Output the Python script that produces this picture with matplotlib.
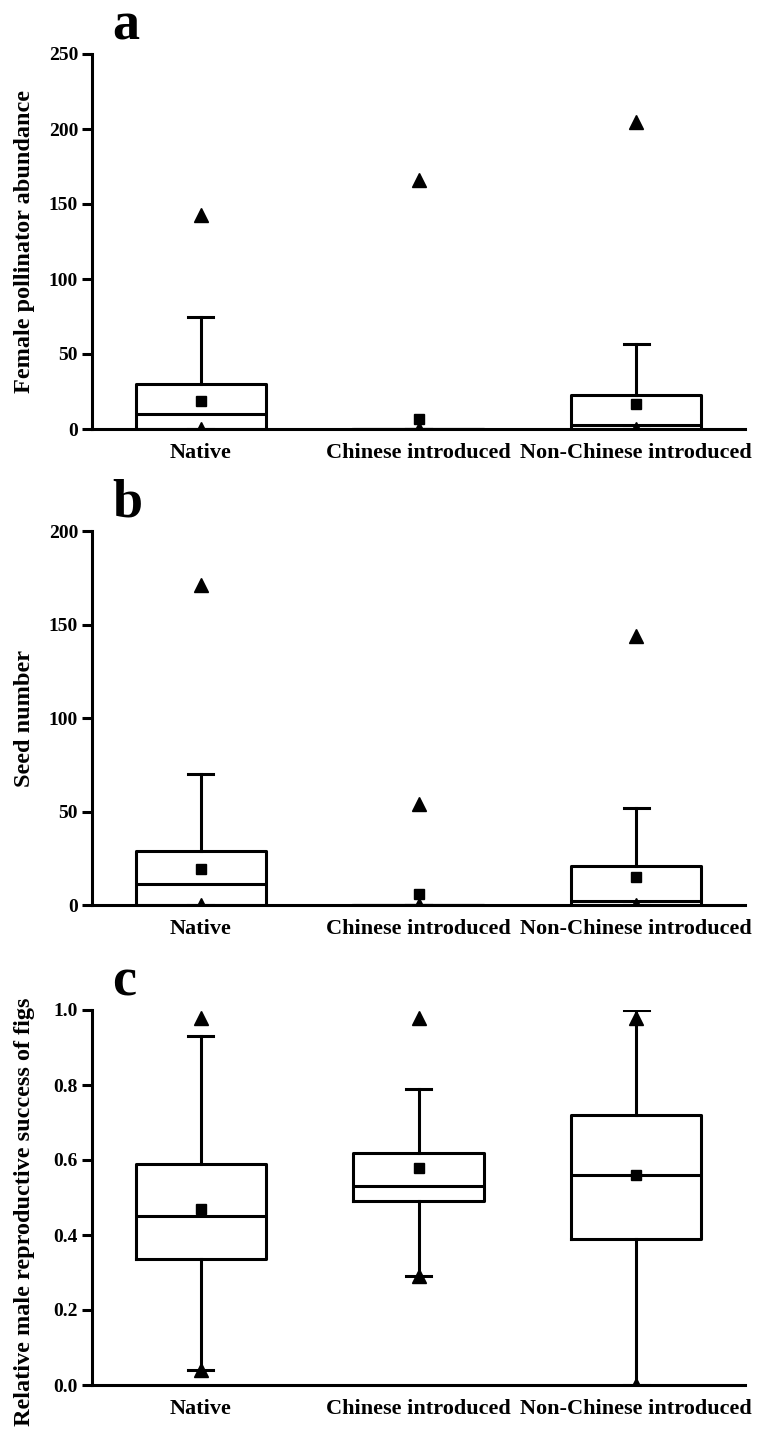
import matplotlib
matplotlib.use("Agg")
import matplotlib.pyplot as plt
from matplotlib.ticker import MultipleLocator

plt.rcParams['font.family'] = ['Liberation Serif', 'DejaVu Serif']
plt.rcParams['font.weight'] = 'bold'

groups = ["Native", "Chinese introduced", "Non-Chinese introduced"]

# (a) Female pollinator abundance
a_whislo = [0, 0, 0]
a_q1 = [0, 0, 0]
a_med = [10, 0, 3]
a_q3 = [30, 0, 23]
a_whishi = [75, 0, 57]
a_mean = [19, 7, 17]
a_max = [143, 166, 205]
a_min = [0, 0, 0]

# (b) Seed number
b_whislo = [0, 0, 0]
b_q1 = [0, 0, 0]
b_med = [11, 0, 2]
b_q3 = [29, 0, 21]
b_whishi = [70, 0, 52]
b_mean = [19, 6, 15]
b_max = [171, 54, 144]
b_min = [0, 0, 0]

# (c) Relative male reproductive success of figs
c_whislo = [0.04, 0.29, 0.0]
c_q1 = [0.335, 0.49, 0.39]
c_med = [0.45, 0.53, 0.56]
c_q3 = [0.59, 0.62, 0.72]
c_whishi = [0.93, 0.79, 1.0]
c_mean = [0.47, 0.58, 0.56]
c_max = [0.98, 0.98, 0.98]
c_min = [0.04, 0.29, 0.0]

W, H = 772, 1430
fig = plt.figure(figsize=(W / 100, H / 100), dpi=100)


def axes_px(left, top, right, bottom):
    return fig.add_axes([left / W, 1 - bottom / H, (right - left) / W, (bottom - top) / H])


LW = 2.2


def panel(ax, letter, ylabel, ymax, ystep, fmt, whislo, q1, med, q3, whishi, mean, vmax, vmin,
          label_y=0.5):
    stats = []
    for i in range(len(groups)):
        stats.append(dict(label=groups[i], whislo=whislo[i], q1=q1[i], med=med[i], q3=q3[i],
                          whishi=whishi[i], mean=mean[i], fliers=[vmax[i], vmin[i]]))
    line = dict(color='black', linewidth=LW)
    ax.bxp(stats, positions=[1, 2, 3], widths=0.6, capwidths=0.115, showmeans=True,
           showfliers=True, boxprops=line, whiskerprops=line, capprops=line,
           medianprops=line,
           meanprops=dict(marker='s', markerfacecolor='black', markeredgecolor='black',
                          markersize=7),
           flierprops=dict(marker='^', markerfacecolor='black', markeredgecolor='black',
                           markersize=10, linestyle='none'))
    ax.set_xlim(0.5, 3.5)
    ax.set_ylim(0, ymax)
    ax.yaxis.set_major_locator(MultipleLocator(ystep))
    ax.yaxis.set_major_formatter(fmt)
    for s in ('top', 'right'):
        ax.spines[s].set_visible(False)
    for s in ('left', 'bottom'):
        ax.spines[s].set_linewidth(LW)
    ax.tick_params(axis='y', direction='out', length=7, width=LW, labelsize=14, pad=3)
    ax.tick_params(axis='x', length=0, labelsize=16, pad=10)
    for t in ax.get_xticklabels() + ax.get_yticklabels():
        t.set_fontweight('bold')
    ax.set_ylabel(ylabel, fontsize=17.5, fontweight='bold')
    ax.yaxis.set_label_coords(-0.087, label_y)
    ax.text(0.031, 1.038, letter, transform=ax.transAxes, fontsize=39, fontweight='bold',
            ha='left', va='baseline')


ax_a = axes_px(92, 54, 745, 429)
panel(ax_a, 'a', 'Female pollinator abundance', 250, 50, '{x:.0f}',
      a_whislo, a_q1, a_med, a_q3, a_whishi, a_mean, a_max, a_min)

ax_b = axes_px(92, 531, 745, 905)
panel(ax_b, 'b', 'Seed number', 200, 50, '{x:.0f}',
      b_whislo, b_q1, b_med, b_q3, b_whishi, b_mean, b_max, b_min)

ax_c = axes_px(92, 1010, 745, 1385)
panel(ax_c, 'c', 'Relative male reproductive success of figs', 1.0, 0.2, '{x:.1f}',
      c_whislo, c_q1, c_med, c_q3, c_whishi, c_mean, c_max, c_min, label_y=0.462)

fig.savefig('out.png', dpi=100)
